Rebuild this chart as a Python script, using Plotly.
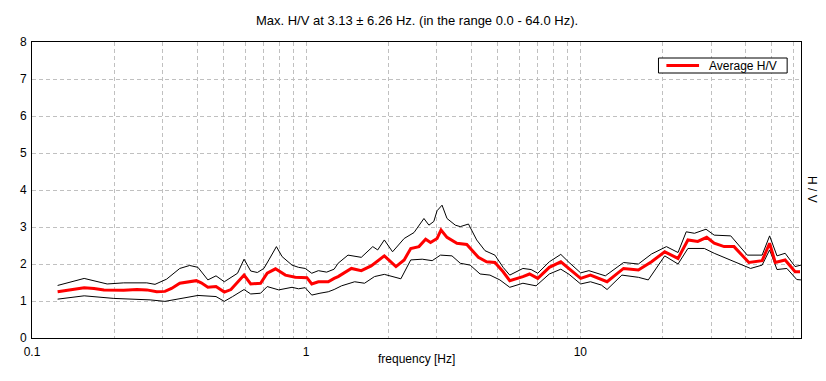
import plotly.graph_objects as go

# Average H/V curve
freq_avg = [0.124, 0.1386, 0.155, 0.1684, 0.183, 0.216, 0.2413, 0.2623, 0.285, 0.3054,
            0.3228, 0.346, 0.371, 0.3975, 0.4143, 0.438, 0.469, 0.5028, 0.5317, 0.5936,
            0.6277, 0.682, 0.721, 0.773, 0.840, 0.9127, 1.006, 1.048, 1.108, 1.204,
            1.265, 1.308, 1.462, 1.589, 1.726, 1.800, 1.928, 2.126, 2.278, 2.407,
            2.579, 2.728, 2.843, 3.003, 3.105, 3.264, 3.547, 3.854, 4.248, 4.551,
            4.881, 5.230, 5.529, 6.175, 6.529, 6.996, 7.709, 8.490, 9.104, 10.03,
            10.89, 11.94, 12.52, 13.41, 14.38, 16.29, 18.19, 20.32, 22.72, 24.69,
            26.82, 28.91, 30.79, 33.46, 36.36, 41.19, 46.05, 49.04, 51.42, 55.88,
            60.73, 63.3]
hv_avg = [1.25, 1.30, 1.36, 1.34, 1.30, 1.29, 1.31, 1.30, 1.25, 1.26,
          1.34, 1.48, 1.52, 1.55, 1.49, 1.37, 1.39, 1.24, 1.31, 1.70,
          1.46, 1.48, 1.75, 1.87, 1.70, 1.64, 1.63, 1.46, 1.52, 1.52,
          1.61, 1.66, 1.88, 1.82, 1.95, 2.06, 2.22, 1.93, 2.11, 2.42,
          2.47, 2.67, 2.58, 2.69, 2.92, 2.72, 2.56, 2.53, 2.18, 2.06,
          2.04, 1.79, 1.55, 1.66, 1.73, 1.61, 1.91, 2.06, 1.88, 1.61,
          1.70, 1.58, 1.52, 1.70, 1.88, 1.84, 2.06, 2.33, 2.15, 2.65,
          2.61, 2.72, 2.56, 2.47, 2.47, 2.04, 2.09, 2.56, 2.04, 2.11,
          1.79, 1.79]

# Upper curve (average + std)
freq_up = [0.124, 0.155, 0.188, 0.216, 0.2623, 0.281, 0.3097, 0.346, 0.3759, 0.403,
           0.438, 0.469, 0.5028, 0.562, 0.5936, 0.6277, 0.6637, 0.701, 0.731, 0.779,
           0.817, 0.888, 0.938, 0.992, 1.048, 1.108, 1.188, 1.265, 1.308, 1.421,
           1.589, 1.750, 1.824, 1.928, 2.066, 2.278, 2.474, 2.689, 2.804, 2.922,
           3.003, 3.131, 3.264, 3.500, 3.649, 3.909, 4.188, 4.491, 4.881, 5.230,
           5.529, 6.175, 6.616, 6.996, 7.709, 8.490, 9.104, 10.03, 10.75, 11.94,
           12.34, 14.38, 16.29, 18.19, 20.61, 22.72, 24.34, 26.08, 28.74, 30.79,
           35.38, 40.64, 46.05, 49.04, 52.17, 55.88, 60.73, 63.8]
hv_up = [1.42, 1.61, 1.46, 1.49, 1.49, 1.45, 1.59, 1.88, 1.96, 1.91,
         1.57, 1.68, 1.52, 1.75, 2.13, 1.81, 1.77, 1.88, 2.11, 2.47,
         2.20, 1.97, 1.91, 1.88, 1.75, 1.82, 1.78, 1.86, 2.02, 2.24,
         2.18, 2.47, 2.38, 2.65, 2.33, 2.69, 2.85, 3.23, 3.05, 3.15,
         3.44, 3.59, 3.23, 3.05, 3.01, 3.08, 2.65, 2.36, 2.24, 1.91,
         1.70, 1.88, 1.85, 1.75, 2.06, 2.26, 2.04, 1.76, 1.82, 1.72,
         1.68, 2.04, 2.00, 2.27, 2.47, 2.31, 2.87, 2.83, 2.94, 2.78,
         2.76, 2.24, 2.24, 2.76, 2.22, 2.29, 1.93, 1.97]

# Lower curve (average - std)
freq_lo = [0.124, 0.155, 0.1988, 0.2696, 0.3054, 0.3366, 0.403, 0.469, 0.5028, 0.5393,
           0.5936, 0.6277, 0.682, 0.721, 0.7943, 0.888, 0.938, 0.992, 1.048, 1.123,
           1.204, 1.265, 1.346, 1.503, 1.633, 1.775, 1.928, 2.216, 2.407, 2.651,
           2.882, 3.090, 3.403, 3.649, 3.965, 4.309, 4.682, 5.088, 5.529, 6.175,
           6.896, 7.709, 8.490, 9.104, 10.03, 10.89, 11.94, 12.52, 14.18, 16.29,
           17.70, 20.32, 22.72, 24.69, 28.34, 30.79, 36.36, 41.78, 46.05, 49.04,
           52.17, 56.68, 61.6, 63.8]
hv_lo = [1.05, 1.14, 1.07, 1.03, 0.99, 1.05, 1.15, 1.12, 0.99, 1.12,
         1.31, 1.19, 1.21, 1.39, 1.30, 1.37, 1.33, 1.36, 1.16, 1.21,
         1.25, 1.31, 1.41, 1.52, 1.48, 1.66, 1.72, 1.60, 2.11, 2.13,
         2.09, 2.24, 2.22, 2.02, 1.97, 1.73, 1.70, 1.57, 1.37, 1.48,
         1.41, 1.73, 1.86, 1.72, 1.46, 1.52, 1.43, 1.31, 1.70, 1.64,
         1.57, 2.22, 2.00, 2.42, 2.42, 2.29, 2.06, 1.88, 1.97, 2.38,
         1.85, 1.88, 1.58, 1.57]

x_ticks = [0.1, 1, 10]
x_ticklabels = ["0.1", "1", "10"]
x_minor = [0.2, 0.3, 0.4, 0.5, 0.6, 0.7, 0.8, 0.9,
           2, 3, 4, 5, 6, 7, 8, 9,
           20, 30, 40, 50, 60]
y_ticks = [0, 1, 2, 3, 4, 5, 6, 7, 8]

title_text = "Max. H/V at 3.13 \u00b1 6.26 Hz. (in the range 0.0 - 64.0 Hz)."
legend_label = "Average H/V"

FONT = "Liberation Sans, Arial, sans-serif"
GRID = "#c0c0c0"

# page body has an 8px margin; figure sized/placed so the plot area lands at
# x 24..801, y 42..338 of the 826x381 window
W, H = 818, 373
ML, MR, MT, MB = 16, 25, 34, 43
PW, PH = W - ML - MR, H - MT - MB   # 777 x 296


def px_x(px):
    return (px - 24) / PW


def px_y(py):
    return 1 - (py - 42) / PH


fig = go.Figure()
fig.add_trace(go.Scatter(x=freq_up, y=hv_up, mode="lines",
                         line=dict(color="black", width=1), showlegend=False,
                         hoverinfo="skip"))
fig.add_trace(go.Scatter(x=freq_lo, y=hv_lo, mode="lines",
                         line=dict(color="black", width=1), showlegend=False,
                         hoverinfo="skip"))
fig.add_trace(go.Scatter(x=freq_avg, y=hv_avg, mode="lines", name=legend_label,
                         line=dict(color="#ff0000", width=3), showlegend=False))

fig.update_layout(
    width=W, height=H,
    margin=dict(l=ML, r=MR, t=MT, b=MB),
    paper_bgcolor="white", plot_bgcolor="white",
    font=dict(family=FONT, size=12, color="black"),
    title=dict(text=title_text, x=px_x(413), xref="paper", xanchor="center",
               y=1 - 12 / H, yref="container", yanchor="middle",
               font=dict(family=FONT, size=13, color="black")),
    showlegend=False,
)

fig.update_xaxes(
    type="log", range=[-1, 1.805],
    tickvals=x_ticks, ticktext=x_ticklabels, ticks="",
    ticklabelstandoff=3,
    showgrid=True, gridcolor=GRID, griddash="4px,3px", gridwidth=1,
    minor=dict(tickvals=x_minor, showgrid=True, gridcolor=GRID,
               griddash="4px,3px", gridwidth=1, ticks=""),
    showline=True, linecolor="black", linewidth=1, mirror=True,
    zeroline=False, tickfont=dict(family=FONT, size=12),
)
fig.update_yaxes(
    range=[0, 8], tickvals=y_ticks, ticks="",
    ticklabelstandoff=2,
    showgrid=True, gridcolor=GRID, griddash="4px,3px", gridwidth=1,
    showline=True, linecolor="black", linewidth=1, mirror=True,
    zeroline=False, tickfont=dict(family=FONT, size=12),
)

# legend box drawn in the style of the original
fig.add_shape(type="rect", xref="paper", yref="paper",
              x0=px_x(657), x1=px_x(787), y0=px_y(73), y1=px_y(58),
              line=dict(color="black", width=1), fillcolor="white", layer="above")
fig.add_shape(type="line", xref="paper", yref="paper",
              x0=px_x(665), x1=px_x(698), y0=px_y(65.5), y1=px_y(65.5),
              line=dict(color="#ff0000", width=3), layer="above")
fig.add_annotation(text=legend_label, xref="paper", yref="paper",
                   x=px_x(706), y=px_y(65.5), xanchor="left", yanchor="middle",
                   showarrow=False, font=dict(family=FONT, size=12))

fig.add_annotation(text="frequency [Hz]", xref="paper", yref="paper",
                   x=0.5, y=px_y(359), xanchor="center", yanchor="middle",
                   showarrow=False, font=dict(family=FONT, size=12))
fig.add_annotation(text="H / V", xref="paper", yref="paper",
                   x=px_x(812), y=px_y(190), xanchor="center", yanchor="middle",
                   textangle=90, showarrow=False, font=dict(family=FONT, size=12))

fig.write_html("out.html")
